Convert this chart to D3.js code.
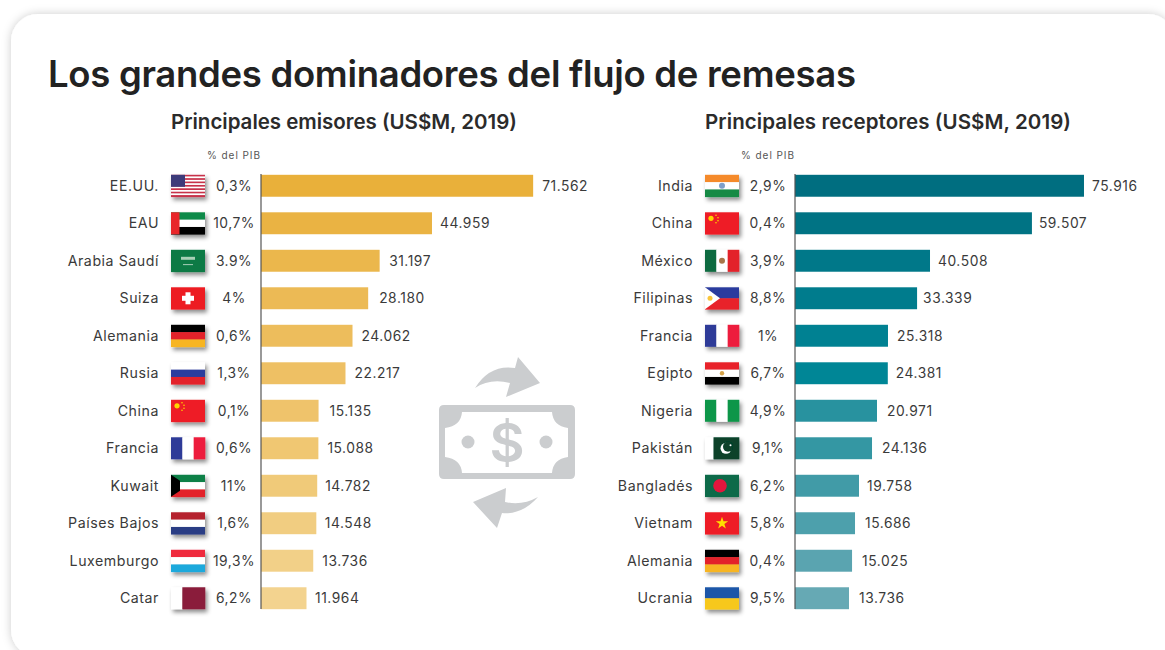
<!DOCTYPE html>
<html>
<head>
<meta charset="utf-8">
<script src="https://cdn.jsdelivr.net/npm/d3@7"></script>
<style>
  html, body { margin: 0; padding: 0; background: #fff; overflow: hidden; }
  text { font-family: "Inter", sans-serif; fill: #3a3a3a; }
</style>
</head>
<body>
<div id="chart"></div>
<script>
var width = 1165
var height = 650

// left panel
var senders = ["EE.UU.", "EAU", "Arabia Saudí", "Suiza", "Alemania", "Rusia", "China", "Francia", "Kuwait", "Países Bajos", "Luxemburgo", "Catar"]
var sendersValues = [71562, 44959, 31197, 28180, 24062, 22217, 15135, 15088, 14782, 14548, 13736, 11964]
var sendersLabels = ["71.562", "44.959", "31.197", "28.180", "24.062", "22.217", "15.135", "15.088", "14.782", "14.548", "13.736", "11.964"]
var sendersPib = ["0,3%", "10,7%", "3.9%", "4%", "0,6%", "1,3%", "0,1%", "0,6%", "11%", "1,6%", "19,3%", "6,2%"]

// right panel. bar lengths are read off the picture, they don't always agree with the printed label
var receivers = ["India", "China", "México", "Filipinas", "Francia", "Egipto", "Nigeria", "Pakistán", "Bangladés", "Vietnam", "Alemania", "Ucrania"]
var receiversValues = [75990, 62300, 35500, 32100, 24450, 24400, 21560, 20250, 16830, 15780, 15000, 14200]
var receiversLabels = ["75.916", "59.507", "40.508", "33.339", "25.318", "24.381", "20.971", "24.136", "19.758", "15.686", "15.025", "13.736"]
var receiversPib = ["2,9%", "0,4%", "3,9%", "8,8%", "1%", "6,7%", "4,9%", "9,1%", "6,2%", "5,8%", "0,4%", "9,5%"]

var svg = d3.select('#chart').append("svg")
svg.attr('width', width).attr('height', height).style("display", "block")

var defs = svg.append("defs")

var cardShadow = defs.append("filter").attr("id", "cardShadow")
  .attr("x", "-5%").attr("y", "-5%").attr("width", "110%").attr("height", "110%")
cardShadow.append("feDropShadow").attr("dx", 0).attr("dy", 0)
  .attr("stdDeviation", 5).attr("flood-color", "#000").attr("flood-opacity", .2)

var flagShadow = defs.append("filter").attr("id", "flagShadow")
  .attr("x", "-30%").attr("y", "-30%").attr("width", "170%").attr("height", "190%")
flagShadow.append("feDropShadow").attr("dx", 2).attr("dy", 3)
  .attr("stdDeviation", 2.2).attr("flood-color", "#000").attr("flood-opacity", .45)

svg.append("rect")
  .attr("x", 11).attr("y", 14)
  .attr("width", 1164).attr("height", 643)
  .attr("rx", 27)
  .attr("fill", "#fff")
  .attr("filter", "url(#cardShadow)")

svg.append("text")
  .attr("x", 48).attr("y", 87)
  .attr("font-size", 36.5)
  .attr("font-weight", 600)
  .attr("textLength", 808)
  .attr("lengthAdjust", "spacing")
  .style("fill", "#222")
  .text("Los grandes dominadores del flujo de remesas")

// flag drawing, all in a 34x22 box
var flagW = 34
var flagH = 22

function stripes(g, colors, vertical, weights) {
  var total = d3.sum(weights || colors.map(function() { return 1 }))
  var pos = 0
  colors.forEach(function(c, i) {
    var w = (weights ? weights[i] : 1) / total
    if (vertical) {
      g.append("rect").attr("x", pos * flagW).attr("y", 0).attr("width", w * flagW + .3).attr("height", flagH).attr("fill", c)
    } else {
      g.append("rect").attr("x", 0).attr("y", pos * flagH).attr("width", flagW).attr("height", w * flagH + .3).attr("fill", c)
    }
    pos += w
  })
}

var flags = {
  "EE.UU.": function(g) {
    stripes(g, d3.range(13).map(function(i) { return i % 2 ? "#fff" : "#c8314a" }))
    g.append("rect").attr("width", 14).attr("height", 12).attr("fill", "#3c3b7a")
  },
  "EAU": function(g) {
    stripes(g, ["#0a8a4a", "#fff", "#000"])
    g.append("rect").attr("width", 8.5).attr("height", flagH).attr("fill", "#e8262a")
  },
  "Arabia Saudí": function(g) {
    stripes(g, ["#0b7a45"])
    g.append("rect").attr("x", 10).attr("y", 7).attr("width", 14).attr("height", 3).attr("fill", "#a9d0b6")
    g.append("rect").attr("x", 12).attr("y", 14.5).attr("width", 10).attr("height", .8).attr("fill", "#cfe3d4")
  },
  "Suiza": function(g) {
    stripes(g, ["#ed1c24"])
    g.append("rect").attr("x", 14.5).attr("y", 5).attr("width", 5).attr("height", 12).attr("fill", "#fff")
    g.append("rect").attr("x", 11).attr("y", 8.5).attr("width", 12).attr("height", 5).attr("fill", "#fff")
  },
  "Alemania": function(g) { stripes(g, ["#000", "#e3232a", "#f7b521"]) },
  "Rusia": function(g) { stripes(g, ["#fff", "#2c3e9e", "#e3232a"]) },
  "China": function(g) {
    stripes(g, ["#ee1c25"])
    g.append("circle").attr("cx", 6).attr("cy", 6).attr("r", 2.6).attr("fill", "#ffd400")
    ;[[11, 3], [13, 5.5], [13, 8.5], [11, 10.5]].forEach(function(p) {
      g.append("circle").attr("cx", p[0]).attr("cy", p[1]).attr("r", .8).attr("fill", "#ffd400")
    })
  },
  "Francia": function(g) { stripes(g, ["#2e3a98", "#fff", "#ed1c3c"], true) },
  "Kuwait": function(g) {
    stripes(g, ["#0a8046", "#fff", "#e3232a"])
    g.append("polygon").attr("points", "0,0 9,6 9,16 0,22").attr("fill", "#000")
  },
  "Países Bajos": function(g) { stripes(g, ["#b5232e", "#fff", "#2c3e84"]) },
  "Luxemburgo": function(g) { stripes(g, ["#ef2b3d", "#fff", "#1fa9dc"]) },
  "Catar": function(g) {
    stripes(g, ["#fff", "#8a1d3a"], true, [1, 2])
  },
  "India": function(g) {
    stripes(g, ["#f58a2a", "#fff", "#128a45"])
    g.append("circle").attr("cx", 17).attr("cy", 11).attr("r", 3).attr("fill", "#7f9fc8")
  },
  "México": function(g) {
    stripes(g, ["#0b6b3f", "#fff", "#e3232a"], true)
    g.append("circle").attr("cx", 17).attr("cy", 11).attr("r", 3).attr("fill", "#a8754a")
  },
  "Filipinas": function(g) {
    stripes(g, ["#2c3a9e", "#e8232a"])
    g.append("polygon").attr("points", "0,0 15,11 0,22").attr("fill", "#fff")
    g.append("circle").attr("cx", 5).attr("cy", 11).attr("r", 2.5).attr("fill", "#f9c53a")
  },
  "Egipto": function(g) {
    stripes(g, ["#e8232a", "#fff", "#000"])
    g.append("circle").attr("cx", 17).attr("cy", 11).attr("r", 2.2).attr("fill", "#d4a24a")
  },
  "Nigeria": function(g) { stripes(g, ["#0a9648", "#fff", "#0a9648"], true) },
  "Pakistán": function(g) {
    stripes(g, ["#fff", "#07432c"], true, [1, 3])
    g.append("circle").attr("cx", 21).attr("cy", 11).attr("r", 5.5).attr("fill", "#fff")
    g.append("circle").attr("cx", 23).attr("cy", 9.5).attr("r", 5).attr("fill", "#07432c")
    g.append("circle").attr("cx", 25.5).attr("cy", 8).attr("r", 1).attr("fill", "#fff")
  },
  "Bangladés": function(g) {
    stripes(g, ["#0a6b4a"])
    g.append("circle").attr("cx", 15).attr("cy", 11).attr("r", 6.8).attr("fill", "#e3183c")
  },
  "Vietnam": function(g) {
    stripes(g, ["#ee1c25"])
    var star = d3.symbol().type(d3.symbolStar).size(48)
    g.append("path").attr("d", star).attr("transform", "translate(17,11)").attr("fill", "#ffdf00")
  },
  "Ucrania": function(g) { stripes(g, ["#1c57a8", "#f7c81e"]) }
}

// same px per unit on both panels, measured from the longest bars
var pxPerUnit = .003803

function drawPanel(opts) {
  var panel = svg.append("g").attr("class", "panel")

  var x = d3.scaleLinear()
    .domain([0, 80000])
    .range([opts.x0, opts.x0 + 80000 * pxPerUnit])

  var y = d3.scaleBand()
    .domain(opts.names)
    .range([167.3, 616.7])
    .paddingInner(.415)
    .paddingOuter(.2)

  var color = d3.scaleLinear()
    .domain(opts.colorStops)
    .range(opts.colors)

  panel.append("text")
    .attr("x", opts.titleX).attr("y", 129)
    .attr("font-size", 20.5)
    .attr("font-weight", 600)
    .attr("textLength", opts.titleLen)
    .attr("lengthAdjust", "spacing")
    .style("fill", "#2b2b2b")
    .text(opts.title)

  panel.append("text")
    .attr("x", opts.x0 - 54).attr("y", 159)
    .attr("font-size", 10)
    .attr("textLength", 53)
    .style("fill", "#555")
    .text("% del PIB")

  panel.selectAll("rect.bar")
    .data(opts.values)
    .enter().append("rect")
    .attr("class", "bar")
    .attr("x", opts.x0)
    .attr("y", function(d, i) { return y(opts.names[i]) })
    .attr("width", function(d) { return x(d) - opts.x0 })
    .attr("height", y.bandwidth())
    .attr("fill", function(d, i) { return color(i) })

  // axis line
  panel.append("line")
    .attr("x1", opts.x0).attr("x2", opts.x0)
    .attr("y1", 174).attr("y2", 609)
    .attr("stroke", "#555")
    .attr("stroke-width", 1.2)

  panel.selectAll("text.value")
    .data(opts.labels)
    .enter().append("text")
    .attr("class", "value")
    .attr("x", function(d, i) { return x(opts.values[i]) + opts.labelGap[i] })
    .attr("y", function(d, i) { return y(opts.names[i]) + y.bandwidth() / 2 + 5 })
    .attr("font-size", 13.8)
    .style("letter-spacing", ".55px")
    .text(function(d) { return d })

  panel.selectAll("text.pib")
    .data(opts.pib)
    .enter().append("text")
    .attr("class", "pib")
    .attr("x", opts.x0 - 27)
    .attr("y", function(d, i) { return y(opts.names[i]) + y.bandwidth() / 2 + 5 })
    .attr("text-anchor", "middle")
    .attr("font-size", 13.8)
    .style("letter-spacing", ".5px")
    .text(function(d) { return d })

  panel.selectAll("text.name")
    .data(opts.names)
    .enter().append("text")
    .attr("class", "name")
    .attr("x", opts.x0 - 102)
    .attr("y", function(d) { return y(d) + y.bandwidth() / 2 + 5 })
    .attr("text-anchor", "end")
    .attr("font-size", 14.2)
    .style("letter-spacing", ".55px")
    .text(function(d) { return d })

  opts.names.forEach(function(name) {
    var g = panel.append("g")
      .attr("transform", "translate(" + (opts.x0 - 90) + "," + y(name) + ")")
      .attr("filter", "url(#flagShadow)")
    flags[name](g)
  })
}

drawPanel({
  title: "Principales emisores (US$M, 2019)",
  titleX: 171,
  titleLen: 346,
  x0: 261,
  names: senders,
  values: sendersValues,
  labels: sendersLabels,
  pib: sendersPib,
  colorStops: [0, 3, 11],
  colors: ["#e9b03a", "#ecba55", "#f3d38f"],
  labelGap: [9, 8, 9.5, 11, 9, 9, 11, 9, 8, 8.5, 9, 8.5]
})

drawPanel({
  title: "Principales receptores (US$M, 2019)",
  titleX: 705,
  titleLen: 366,
  x0: 795,
  names: receivers,
  values: receiversValues,
  labels: receiversLabels,
  pib: receiversPib,
  colorStops: [0, 5, 6, 11],
  colors: ["#006e80", "#008696", "#28929f", "#66a9b4"],
  labelGap: [8, 7, 8, 6, 9, 8, 10, 10, 8, 10, 10, 10]
})

// money icon in the middle, grey
var icon = svg.append("g").attr("class", "icon").attr("fill", "#cbcdcf")

icon.append("path")
  .attr("fill-rule", "evenodd")
  .attr("d", "M444,405 L570,405 Q575,405 575,410 L575,474 Q575,479 570,479 L444,479 Q439,479 439,474 L439,410 Q439,405 444,405 Z " +
    "M462,412 Q461,426 445,428 L445,457 Q461,459 462,473 L552,473 Q553,459 568,457 L568,428 Q553,426 552,412 Z")

icon.append("circle").attr("cx", 468).attr("cy", 442).attr("r", 6.5)
icon.append("circle").attr("cx", 546).attr("cy", 442).attr("r", 6.5)

icon.append("text")
  .attr("x", 507).attr("y", 462)
  .attr("text-anchor", "middle")
  .attr("font-size", 54)
  .attr("font-weight", 600)
  .style("fill", "#cbcdcf")
  .text("$")

// curved arrows above and below the note
icon.append("path")
  .attr("d", "M475,388 Q490,364 515,368 L518,357 L540,383 L506,397 L510,383 Q490,378 475,388 Z")
icon.append("path")
  .attr("d", "M538,497 Q522,515 502,513 L497,528 L473,502 L506,488 L505,502 Q522,506 538,497 Z")
</script>
</body>
</html>
